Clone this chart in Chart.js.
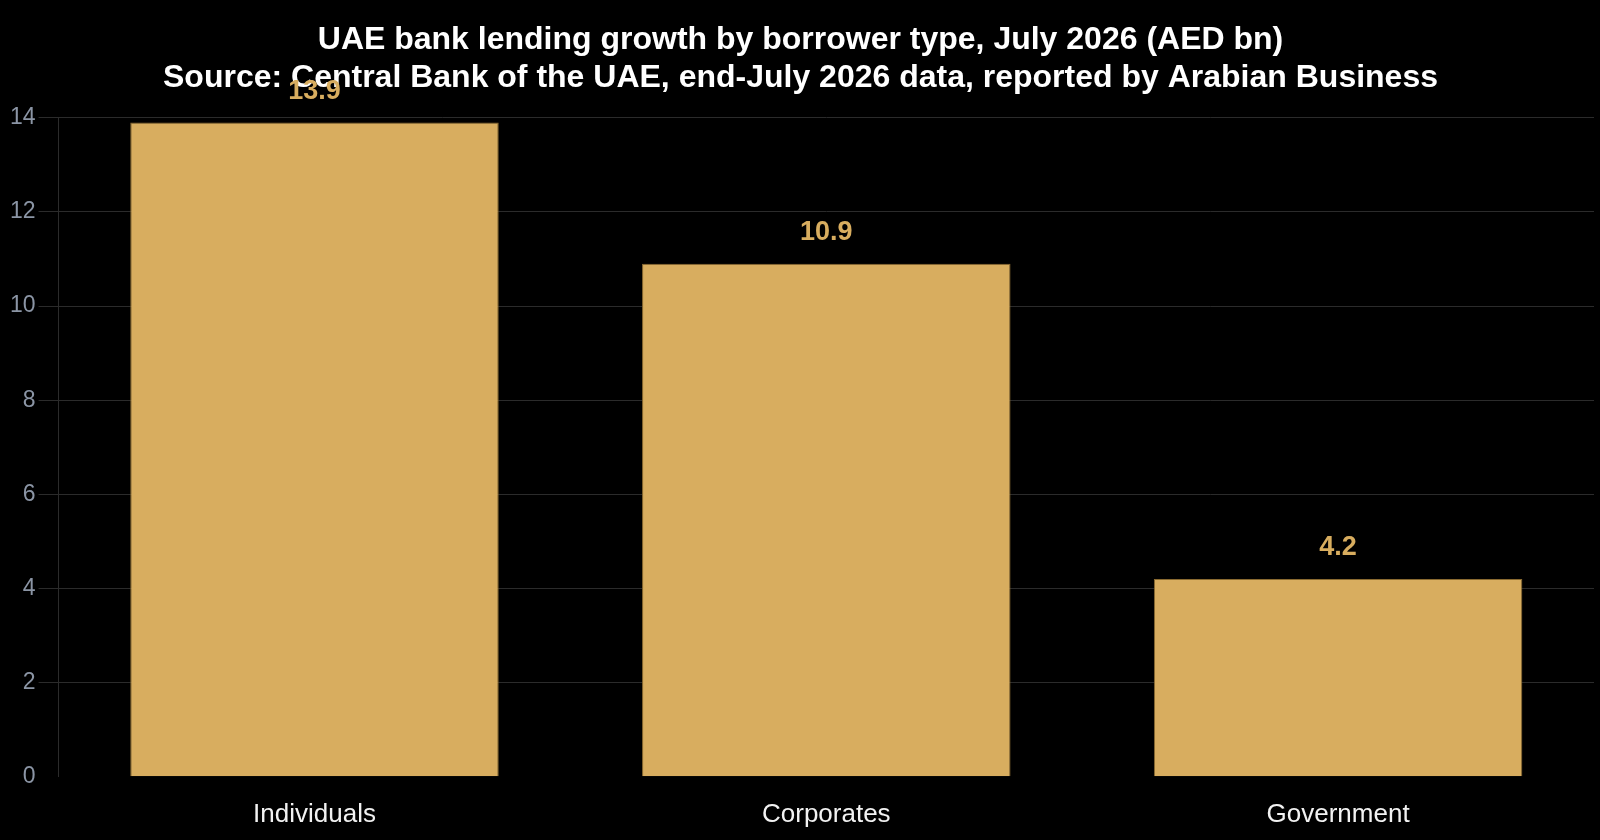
<!DOCTYPE html>
<html>
<head>
<meta charset="utf-8">
<script src="https://cdn.jsdelivr.net/npm/chart.js@4.4.1/dist/chart.umd.min.js"></script>
<style>
  html, body { margin: 0; padding: 0; background: #000; }
  #wrap { width: 1600px; height: 840px; }
</style>
</head>
<body>
<div id="wrap"><canvas id="c" width="1600" height="840"></canvas></div>
<script>
const categories = ["Individuals", "Corporates", "Government"];
const lendingGrowth = [13.9, 10.9, 4.2];
const yTicks = [0, 2, 4, 6, 8, 10, 12, 14];
const titleLines = [
  "UAE bank lending growth by borrower type, July 2026 (AED bn)",
  "Source: Central Bank of the UAE, end-July 2026 data, reported by Arabian Business"
];

const BAR = "#D8AD5F";
const FONT = "'Liberation Sans', Arial, sans-serif";

const valueLabels = {
  id: "valueLabels",
  afterDatasetsDraw(chart) {
    const ctx = chart.ctx;
    const meta = chart.getDatasetMeta(0);
    ctx.save();
    ctx.font = "bold 27px " + FONT;
    ctx.fillStyle = BAR;
    ctx.textAlign = "center";
    ctx.textBaseline = "alphabetic";
    meta.data.forEach((bar, i) => {
      ctx.fillText(lendingGrowth[i].toFixed(1), bar.x, bar.y - 24);
    });
    ctx.restore();
  }
};

new Chart(document.getElementById("c"), {
  type: "bar",
  data: {
    labels: categories,
    datasets: [{
      data: lendingGrowth,
      backgroundColor: BAR,
      borderColor: "#8a6a30",
      borderWidth: 1,
      categoryPercentage: 0.72,
      barPercentage: 1.0
    }]
  },
  options: {
    responsive: false,
    devicePixelRatio: 1,
    animation: false,
    layout: { padding: { top: 0, right: 6, bottom: -12, left: 7 } },
    plugins: {
      legend: { display: false },
      tooltip: { enabled: false },
      title: {
        display: true,
        text: titleLines,
        color: "#ffffff",
        font: { family: FONT, size: 32, weight: "bold", lineHeight: 1.2 },
        padding: { top: 21, bottom: 20 }
      }
    },
    scales: {
      x: {
        grid: { display: false, drawTicks: false },
        border: { display: false },
        ticks: { color: "#f2f2f2", font: { family: FONT, size: 26 }, padding: 22 }
      },
      y: {
        min: 0,
        max: 14,
        afterBuildTicks(axis) { axis.ticks = yTicks.map(v => ({ value: v })); },
        grid: {
          color: ctx => (ctx.tick && ctx.tick.value === 0) ? "rgba(0,0,0,0)" : "#2b2b2b",
          lineWidth: 1,
          drawTicks: true,
          tickLength: 20
        },
        border: { display: true, color: "#2b2b2b" },
        ticks: { color: "#8b95a5", font: { family: FONT, size: 23 }, padding: 3 }
      }
    }
  },
  plugins: [valueLabels]
});
</script>
</body>
</html>
